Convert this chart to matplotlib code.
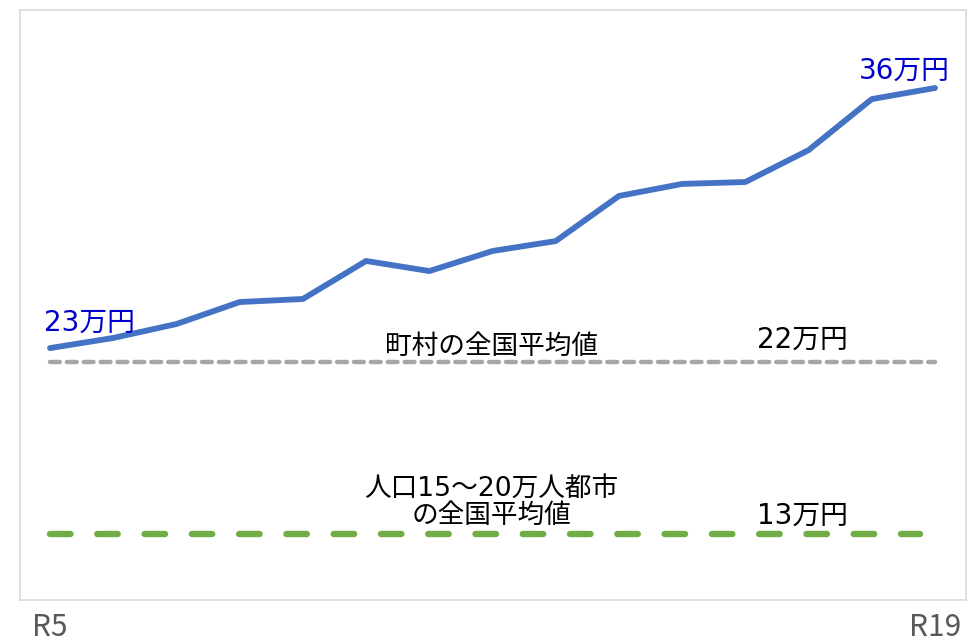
import matplotlib
matplotlib.use("Agg")
import matplotlib.pyplot as plt
import numpy as np

plt.rcParams['font.family'] = ['DejaVu Sans', 'Noto Sans CJK JP']

years = ["R5", "R6", "R7", "R8", "R9", "R10", "R11", "R12", "R13", "R14", "R15", "R16", "R17", "R18", "R19"]
values = [22.73, 23.26, 23.99, 25.14, 25.30, 27.29, 26.76, 27.81, 28.33, 30.69, 31.32, 31.42, 33.09, 35.76, 36.34]
town_avg = 22
city_avg = 13
tick_labels = ["R5"] + [""] * 13 + ["R19"]

fig = plt.figure(figsize=(9.74, 6.44), dpi=100)
ax = fig.add_axes([20/974, 44/644, 946/974, 590/644])

x = np.arange(len(years))
ax.plot(x, values, color="#4472C4", lw=4.2, solid_capstyle="round", solid_joinstyle="round", zorder=3)
ax.plot([x[0], x[-1]], [town_avg, town_avg], color="#A6A6A6", lw=3.2,
        dashes=(2.2, 1.6), dash_capstyle="round")
ax.plot([x[0], x[-1] - 0.23], [city_avg, city_avg], color="#70AD47", lw=4.6,
        dashes=(3.2, 4.2), dash_capstyle="round")

ax.set_xlim(-0.475, 14.49)
ax.set_ylim(9.55, 40.42)
ax.set_yticks([])
ax.set_xticks(x)
ax.set_xticklabels(tick_labels, fontsize=21.5, color="#595959", family=['Noto Sans CJK JP'])
ax.tick_params(axis="x", length=0, pad=9)
for s in ax.spines.values():
    s.set_color("#D9D9D9")
    s.set_linewidth(1.2)

ax.text(x[0] - 0.1, values[0] + 0.6, "23万円", color="#0000CC", fontsize=20, ha="left", va="bottom")
ax.text(x[-1] + 0.24, values[-1] + 0.15, "36万円", color="#0000CC", fontsize=20, ha="right", va="bottom")
ax.text(6.98, town_avg + 0.12, "町村の全国平均値", color="black", fontsize=19.2, ha="center", va="bottom")
ax.text(11.9, town_avg + 0.45, "22万円", color="black", fontsize=20, ha="center", va="bottom")
ax.text(6.98, city_avg + 0.25, "人口15～20万人都市\nの全国平均値", color="black", fontsize=19.2,
        ha="center", va="bottom", linespacing=1.08)
ax.text(11.9, city_avg + 0.25, "13万円", color="black", fontsize=20, ha="center", va="bottom")

fig.savefig("out.png", dpi=100)
